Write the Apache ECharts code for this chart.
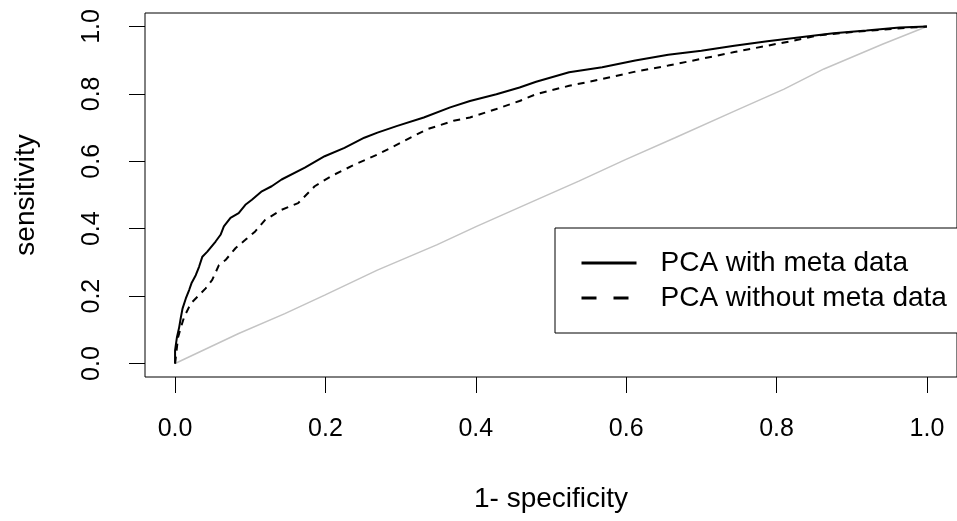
<!DOCTYPE html>
<html>
<head>
<meta charset="utf-8">
<script src="https://cdn.jsdelivr.net/npm/echarts@6/dist/echarts.min.js"></script>
<style>
html,body{margin:0;padding:0;background:#fff;}
#chart{width:957px;height:521px;}
</style>
</head>
<body>
<div id="chart"></div>
<script>
// ROC curve: PCA with meta data
const fprWith = [0, 0, 0.0025, 0.0055, 0.0078, 0.0099, 0.0143, 0.0187, 0.0218, 0.0275, 0.0319, 0.0363, 0.0429, 0.0539, 0.0605, 0.0649, 0.0737, 0.0846, 0.0935, 0.1022, 0.1154, 0.1285, 0.1417, 0.1726, 0.199, 0.2253, 0.2517, 0.2692, 0.2956, 0.3308, 0.3659, 0.3922, 0.4274, 0.4582, 0.4802, 0.5241, 0.5681, 0.612, 0.6559, 0.700, 0.7438, 0.7877, 0.8317, 0.8757, 0.9196, 0.9636, 1.0];
const tprWith = [0, 0.039, 0.078, 0.108, 0.138, 0.163, 0.193, 0.218, 0.238, 0.262, 0.287, 0.317, 0.332, 0.362, 0.382, 0.407, 0.432, 0.446, 0.471, 0.486, 0.511, 0.526, 0.546, 0.581, 0.615, 0.640, 0.670, 0.685, 0.705, 0.730, 0.760, 0.779, 0.799, 0.819, 0.836, 0.864, 0.879, 0.899, 0.916, 0.928, 0.943, 0.956, 0.968, 0.980, 0.988, 0.997, 1.0];
// ROC curve: PCA without meta data
const fprWithout = [0, 0.004, 0.0078, 0.0121, 0.0187, 0.0231, 0.0319, 0.0407, 0.0494, 0.0583, 0.0671, 0.0803, 0.0935, 0.1066, 0.1198, 0.1417, 0.1637, 0.1857, 0.2077, 0.2385, 0.2692, 0.3044, 0.3351, 0.3703, 0.3922, 0.4274, 0.4582, 0.4802, 0.5241, 0.5681, 0.612, 0.6559, 0.700, 0.7438, 0.7877, 0.8229, 0.8537, 0.8977, 0.9416, 1.0];
const tprWithout = [0, 0.078, 0.108, 0.138, 0.168, 0.183, 0.203, 0.223, 0.248, 0.292, 0.307, 0.342, 0.367, 0.392, 0.426, 0.456, 0.476, 0.526, 0.556, 0.590, 0.620, 0.660, 0.695, 0.720, 0.730, 0.755, 0.779, 0.799, 0.824, 0.844, 0.866, 0.884, 0.904, 0.924, 0.943, 0.958, 0.973, 0.983, 0.991, 1.0];
// Reference (chance) line
const fprChance = [0, 0.0846, 0.146, 0.199, 0.269, 0.348, 0.401, 0.476, 0.537, 0.599, 0.665, 0.744, 0.810, 0.863, 0.9416, 1.0];
const tprChance = [0, 0.089, 0.148, 0.203, 0.277, 0.352, 0.407, 0.481, 0.541, 0.605, 0.670, 0.749, 0.814, 0.874, 0.948, 1.0];
// Tick labels
const ticks = [0, 0.2, 0.4, 0.6, 0.8, 1.0];
const seriesNames = ['PCA with meta data', 'PCA without meta data'];

const pairs = (xs, ys) => xs.map((x, i) => [x, ys[i]]);
const FONT = '"Liberation Sans", Arial, sans-serif';

const chart = echarts.init(document.getElementById('chart'), null, {renderer: 'canvas'});
chart.setOption({
  animation: false,
  backgroundColor: '#ffffff',
  grid: {
    left: 145, top: 13, width: 819, height: 364,
    show: true, borderColor: '#000', borderWidth: 1, backgroundColor: 'transparent'
  },
  xAxis: {
    type: 'value', min: -0.04, max: 1.04,
    name: '1- specificity', nameLocation: 'middle', nameGap: 108,
    nameTextStyle: {fontFamily: FONT, fontSize: 28, color: '#000'},
    axisLine: {show: false, onZero: false},
    axisTick: {show: true, inside: false, length: 16, customValues: ticks, lineStyle: {color: '#000', width: 1}},
    axisLabel: {customValues: ticks, margin: 40, fontFamily: FONT, fontSize: 25, color: '#000',
      formatter: v => v.toFixed(1)},
    splitLine: {show: false}
  },
  yAxis: {
    type: 'value', min: -0.04, max: 1.04,
    name: 'sensitivity', nameLocation: 'middle', nameGap: 105,
    nameTextStyle: {fontFamily: FONT, fontSize: 28, color: '#000'},
    axisLine: {show: false, onZero: false},
    axisTick: {show: true, inside: false, length: 16, customValues: ticks, lineStyle: {color: '#000', width: 1}},
    axisLabel: {customValues: ticks, rotate: 90, margin: 40, fontFamily: FONT, fontSize: 25, color: '#000',
      formatter: v => v.toFixed(1)},
    splitLine: {show: false}
  },
  legend: {
    orient: 'vertical', left: 555, top: 228,
    padding: [21, 40, 21, 25],
    itemWidth: 55, itemHeight: 28, itemGap: 7,
    borderColor: '#000', borderWidth: 1, borderRadius: 0,
    backgroundColor: '#fff',
    formatter: name => '{t|' + name + '}',
    textStyle: {
      fontFamily: FONT, fontSize: 28, color: '#000',
      rich: {t: {fontFamily: FONT, fontSize: 28, color: '#000', padding: [0, 0, 0, 19]}}
    },
    data: [
      {name: seriesNames[0], itemStyle: {opacity: 0}, lineStyle: {width: 3, color: '#000', type: 'solid'}},
      {name: seriesNames[1], itemStyle: {opacity: 0}, lineStyle: {width: 3, color: '#000', type: [15, 17]}}
    ]
  },
  series: [
    {
      name: 'chance', type: 'line', data: pairs(fprChance, tprChance),
      symbol: 'none', silent: true,
      itemStyle: {color: '#c4c4c4'},
      lineStyle: {color: '#c4c4c4', width: 1.5}, z: 1
    },
    {
      name: seriesNames[0], type: 'line', data: pairs(fprWith, tprWith),
      symbol: 'none', itemStyle: {color: '#000'},
      lineStyle: {color: '#000', width: 2}, z: 3
    },
    {
      name: seriesNames[1], type: 'line', data: pairs(fprWithout, tprWithout),
      symbol: 'none', itemStyle: {color: '#000'},
      lineStyle: {color: '#000', width: 2, type: [7, 6]}, z: 2
    }
  ]
});
</script>
</body>
</html>
